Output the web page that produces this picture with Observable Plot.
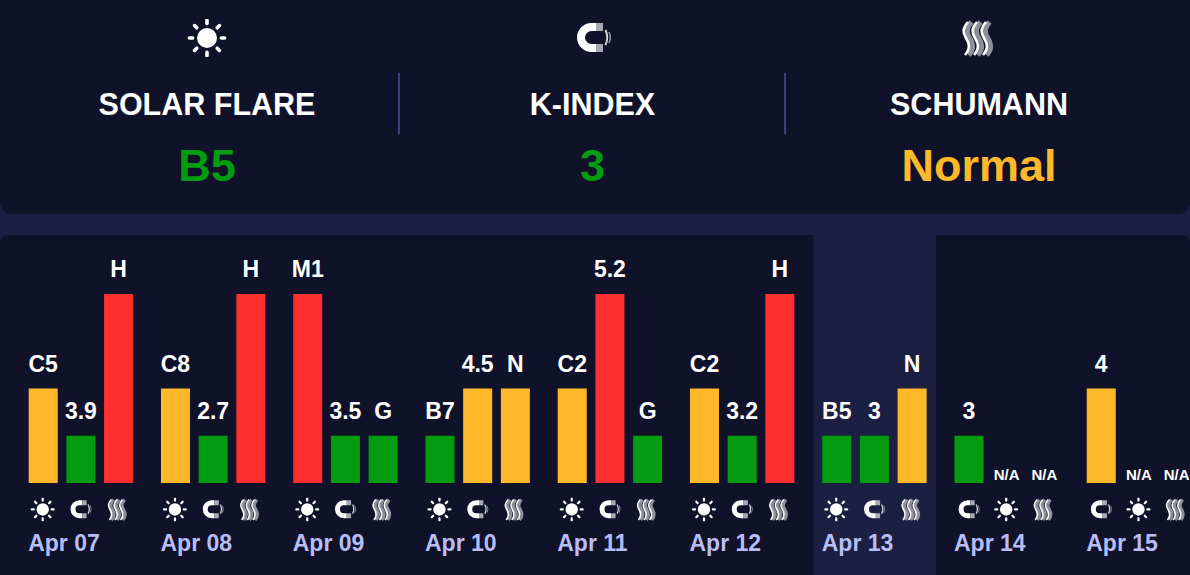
<!DOCTYPE html>
<html>
<head>
<meta charset="utf-8">
<script src="https://cdn.jsdelivr.net/npm/d3@7"></script>
<script src="https://cdn.jsdelivr.net/npm/@observablehq/plot@0.6"></script>
<style>
html,body{margin:0;padding:0;width:1190px;height:575px;overflow:hidden;background:#1b1f42;font-family:"Liberation Sans",Arial,sans-serif}
#head{position:relative;height:214px;background:#0f1229;border-radius:0 0 12px 12px;margin-bottom:21px}
.col{position:absolute;top:0;width:400px;text-align:center}
.col img{position:absolute;left:179px;top:19px;width:42px;height:38px}
.col .t{position:absolute;left:0;right:0;top:87px;font-size:30.5px;line-height:34px;font-weight:700;color:#fff}
.col .v{position:absolute;left:0;right:0;top:141px;font-size:45px;line-height:50px;font-weight:700}
.div{position:absolute;top:73px;width:2px;height:61px;background:#3b4080}
#chart{height:340px;background:#0f1229;border-radius:8px 8px 0 0;overflow:hidden}
#chart svg{display:block;overflow:hidden}
</style>
</head>
<body>
<div id="head"></div>
<div id="chart"></div>
<script>
// Values
const days = ["Apr 07","Apr 08","Apr 09","Apr 10","Apr 11","Apr 12","Apr 13","Apr 14","Apr 15"];
const today = "Apr 13";
const solarLabels = ["C5","C8","M1","B7","C2","C2","B5",null,null];
const solarLevels = [2,2,4,1,2,2,1,0,0];
const kLabels = ["3.9","2.7","3.5","4.5","5.2","3.2","3","3","4"];
const kLevels = [1,1,1,2,4,1,1,1,2];
const schumannLabels = ["H","H","G","N","G","H","N",null,null];
const schumannLevels = [4,4,1,2,1,4,2,0,0];
const levelDomain = [1,2,4];
const levelColors = ["#039b0f","#fdb92a","#ff2f2f"];
const headTitles = ["SOLAR FLARE","K-INDEX","SCHUMANN"];
const headValues = ["B5","3","Normal"];
const headLevels = [1,1,2];
const headCenters = [207,592.5,979];
const dividers = [398,784];

function uri(s){return "data:image/svg+xml;utf8,"+encodeURIComponent(s)}
const strand = x => `M${x+2} 3C${x-4} 10 ${x-3} 14 ${x} 19C${x+3} 24 ${x+5} 29 ${x-1} 36`;
const sun = uri(`<svg xmlns="http://www.w3.org/2000/svg" viewBox="0 0 42 38"><circle cx="21" cy="19" r="10" fill="#fff"/><g stroke="#fff" stroke-width="3.6" stroke-linecap="round">${[0,45,90,135,180,225,270,315].map(a=>`<line x1="21" y1="3" x2="21" y2="-0.2" transform="rotate(${a} 21 19) translate(0 1.6)"/>`).join("")}</g></svg>`);
const magnet = uri(`<svg xmlns="http://www.w3.org/2000/svg" viewBox="0 0 42 38"><path d="M24 8H19.5A10.5 10.5 0 0 0 19.5 29H24" fill="none" stroke="#fff" stroke-width="8"/><path d="M24 8H31M24 29H31" fill="none" stroke="#a9a9b4" stroke-width="8"/><path d="M33.5 11Q37 18.5 33.5 26" fill="none" stroke="#d5d5da" stroke-width="2"/><path d="M37 13Q39.5 18.5 37 24" fill="none" stroke="#8f8f9c" stroke-width="1.6"/></svg>`);
const waves = uri(`<svg xmlns="http://www.w3.org/2000/svg" viewBox="0 0 42 38"><path d="${[11.5,20.5,29.5].map(strand).join("")}" fill="none" stroke="#8f8f9c" stroke-width="5.5"/><path d="${[8,17,26].map(strand).join("")}" fill="none" stroke="#fff" stroke-width="2.6"/></svg>`);
const headIcons = [sun,magnet,waves];

// Header
const head = document.getElementById("head");
headTitles.forEach((t,i)=>{
  const c = document.createElement("div");
  c.className = "col";
  c.style.left = (headCenters[i]-200)+"px";
  const color = levelColors[levelDomain.indexOf(headLevels[i])];
  c.innerHTML = `<img src="${headIcons[i]}"><div class="t">${t}</div><div class="v" style="color:${color}">${headValues[i]}</div>`;
  head.appendChild(c);
});
dividers.forEach(x=>{const d=document.createElement("div");d.className="div";d.style.left=x+"px";head.appendChild(d);});

// Chart rows: days without a solar reading list the K-index first
const rows = [];
days.forEach((day,i)=>{
  const s = {src:sun,label:solarLabels[i],level:solarLevels[i]};
  const k = {src:magnet,label:kLabels[i],level:kLevels[i]};
  const h = {src:waves,label:schumannLabels[i],level:schumannLevels[i]};
  const order = solarLabels[i]===null ? [k,s,h] : [s,k,h];
  order.forEach((d,slot)=>rows.push({day,slot,...d}));
});
const present = rows.filter(d=>d.level>0);
const missing = rows.filter(d=>d.level===0);
const dayRows = days.map(day=>({day}));

const chart = Plot.plot({
  width:1190,height:340,margin:0,
  style:{background:"transparent",fontFamily:"'Liberation Sans',Arial,sans-serif"},
  fx:{domain:days,range:[19.7,1200],paddingInner:0.0756,paddingOuter:0,round:false,axis:null,align:0},
  x:{type:"band",domain:[0,1,2],range:[9,113.4],paddingInner:0.23,paddingOuter:0,round:false,axis:null,align:0},
  y:{domain:[0,4],range:[248,59],axis:null},
  color:{type:"ordinal",domain:levelDomain,range:levelColors},
  marks:[
    Plot.rect([{day:today}],{fx:"day",x1:()=>0,x2:()=>2,y1:()=>-1.95,y2:()=>5.25,fill:"#1b1f42",insetLeft:-9,insetRight:-9.5}),
    Plot.barY(present,{fx:"day",x:"slot",y:"level",fill:"level"}),
    Plot.text(present,{fx:"day",x:"slot",y:"level",text:"label",dy:-24.5,dx:-0.5,fill:"#fff",fontSize:23,fontWeight:700}),
    Plot.text(missing,{fx:"day",x:"slot",y:"level",text:()=>"N/A",dy:-8,dx:-0.5,fill:"#fff",fontSize:15,fontWeight:700}),
    Plot.image(rows,{fx:"day",x:"slot",y:()=>-0.55,src:"src",width:26,height:24,dx:-1,preserveAspectRatio:"xMidYMid meet"}),
    Plot.text(dayRows,{fx:"day",x:()=>0,y:()=>-1.27,text:"day",textAnchor:"start",dx:-15.5,fill:"#b9bdf5",fontSize:23,fontWeight:700})
  ]
});
document.getElementById("chart").appendChild(chart);
</script>
</body>
</html>
